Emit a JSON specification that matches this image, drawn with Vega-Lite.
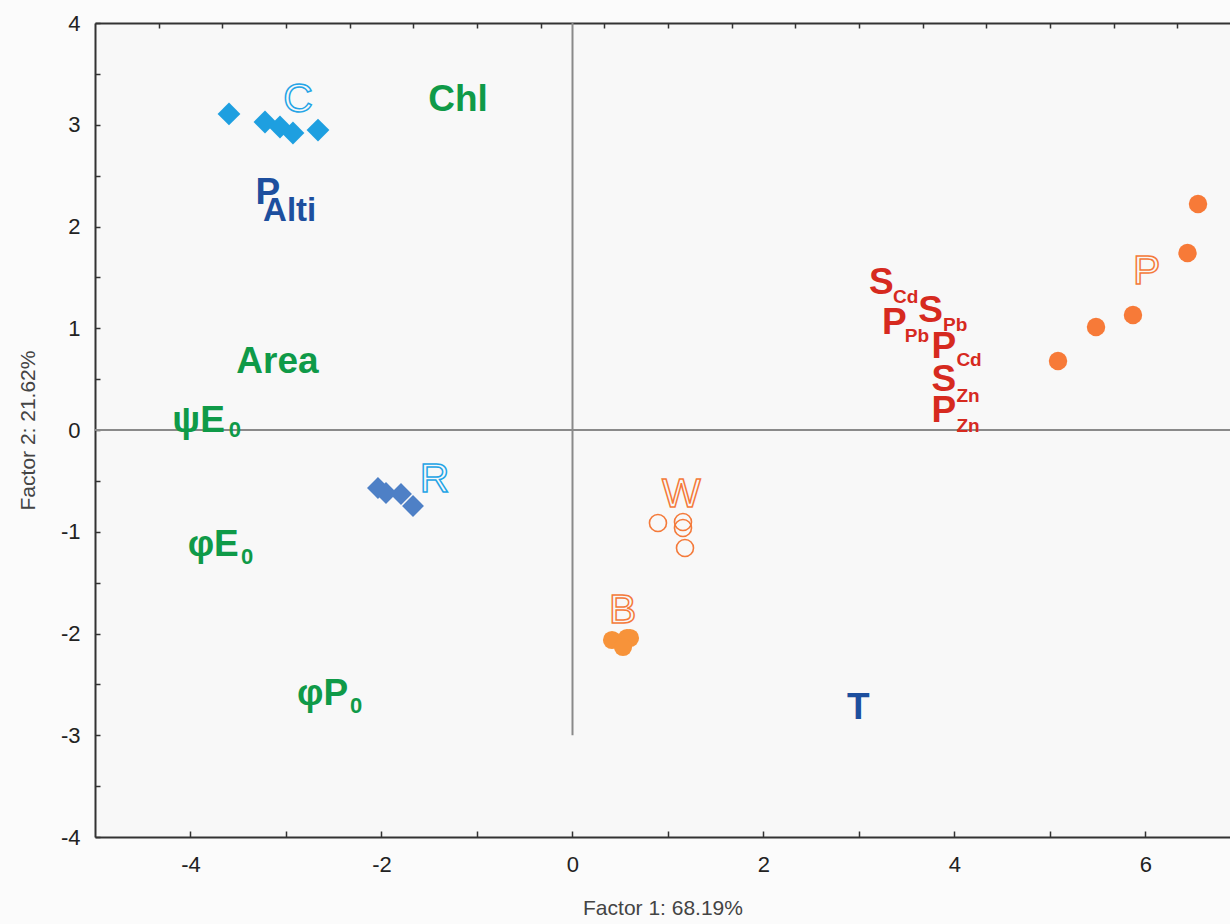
{
  "$schema": "https://vega.github.io/schema/vega-lite/v6.json",
  "width": 1135,
  "height": 814,
  "autosize": "none",
  "padding": {"left": 95, "top": 23, "right": 0, "bottom": 87},
  "background": "#fbfbfb",
  "config": {
    "view": {"fill": "#f8f8f8", "stroke": null},
    "axis": {"grid": false, "domainColor": "#333", "domainWidth": 2, "tickColor": "#333", "tickWidth": 1.5,
             "labelFont": "Liberation Sans", "labelFontSize": 22, "labelColor": "#222",
             "titleFont": "Liberation Sans", "titleFontSize": 21, "titleFontWeight": "normal", "titleColor": "#444"}
  },
  "resolve": {"axis": {"x": "independent"}, "scale": {"size": "independent", "shape": "independent", "color": "independent", "fill": "independent", "stroke": "independent"}},
  "datasets": {
    "points": [
      {"x": -3.597, "y": 3.106, "group": "C"},
      {"x": -3.22, "y": 3.027, "group": "C"},
      {"x": -3.063, "y": 2.978, "group": "C"},
      {"x": -2.927, "y": 2.919, "group": "C"},
      {"x": -2.665, "y": 2.948, "group": "C"},
      {"x": -2.037, "y": -0.57, "group": "R"},
      {"x": -1.953, "y": -0.619, "group": "R"},
      {"x": -1.796, "y": -0.629, "group": "R"},
      {"x": -1.67, "y": -0.747, "group": "R"},
      {"x": 6.55, "y": 2.221, "group": "P"},
      {"x": 6.44, "y": 1.74, "group": "P"},
      {"x": 5.869, "y": 1.13, "group": "P"},
      {"x": 5.482, "y": 1.012, "group": "P"},
      {"x": 5.084, "y": 0.678, "group": "P"},
      {"x": 0.414, "y": -2.064, "group": "B"},
      {"x": 0.571, "y": -2.044, "group": "B"},
      {"x": 0.602, "y": -2.044, "group": "B"},
      {"x": 0.529, "y": -2.133, "group": "B"}
    ],
    "hollow": [
      {"x": 0.895, "y": -0.914, "group": "W"},
      {"x": 1.157, "y": -0.904, "group": "W"},
      {"x": 1.157, "y": -0.963, "group": "W"},
      {"x": 1.178, "y": -1.16, "group": "W"}
    ],
    "labels": [
      {"label": "Chl", "x": -1.51, "y": 3.135, "kind": "green", "role": "main"},
      {"label": "Area", "x": -3.52, "y": 0.56, "kind": "green", "role": "main"},
      {"label": "ψE", "x": -4.19, "y": -0.015, "kind": "green", "role": "main"},
      {"label": "0", "x": -3.6, "y": -0.065, "kind": "green", "role": "sub0"},
      {"label": "φE", "x": -4.03, "y": -1.243, "kind": "green", "role": "main"},
      {"label": "0", "x": -3.47, "y": -1.32, "kind": "green", "role": "sub0"},
      {"label": "φP", "x": -2.885, "y": -2.7, "kind": "green", "role": "main"},
      {"label": "0", "x": -2.33, "y": -2.78, "kind": "green", "role": "sub0"},
      {"label": "P", "x": -3.32, "y": 2.226, "kind": "navy", "role": "main"},
      {"label": "Alti", "x": -3.24, "y": 2.05, "kind": "navy", "role": "mid"},
      {"label": "T", "x": 2.874, "y": -2.845, "kind": "navy", "role": "main"},
      {"label": "S", "x": 3.104, "y": 1.34, "kind": "red", "role": "main"},
      {"label": "Cd", "x": 3.356, "y": 1.25, "kind": "red", "role": "sub"},
      {"label": "P", "x": 3.24, "y": 0.94, "kind": "red", "role": "main"},
      {"label": "Pb", "x": 3.48, "y": 0.86, "kind": "red", "role": "sub"},
      {"label": "S", "x": 3.62, "y": 1.057, "kind": "red", "role": "main"},
      {"label": "Pb", "x": 3.88, "y": 0.97, "kind": "red", "role": "sub"},
      {"label": "P", "x": 3.76, "y": 0.71, "kind": "red", "role": "main"},
      {"label": "Cd", "x": 4.02, "y": 0.625, "kind": "red", "role": "sub"},
      {"label": "S", "x": 3.76, "y": 0.38, "kind": "red", "role": "main"},
      {"label": "Zn", "x": 4.02, "y": 0.28, "kind": "red", "role": "sub"},
      {"label": "P", "x": 3.76, "y": 0.074, "kind": "red", "role": "main"},
      {"label": "Zn", "x": 4.02, "y": -0.015, "kind": "red", "role": "sub"}
    ],
    "outline": [
      {"label": "C", "x": -3.03, "y": 3.125, "tone": "blue"},
      {"label": "R", "x": -1.6, "y": -0.614, "tone": "blue"},
      {"label": "P", "x": 5.87, "y": 1.43, "tone": "orange"},
      {"label": "W", "x": 0.937, "y": -0.752, "tone": "orange"},
      {"label": "B", "x": 0.382, "y": -1.9, "tone": "orange"}
    ],
    "vline": [{"x": 0, "y": -3, "y2": 4}],
    "hline": [{"x": -5, "x2": 6.885, "y": 0}]
  },
  "layer": [
    {
      "data": {"name": "vline"},
      "mark": {"type": "rule", "color": "#8a8a8a", "strokeWidth": 2},
      "encoding": {
        "x": {"field": "x", "type": "quantitative", "scale": {"domain": [-5, 6.885], "nice": false, "zero": false},
              "axis": {"orient": "bottom", "values": [-4, -3, -2, -1, 0, 1, 2, 3, 4, 5, 6], "labelExpr": "datum.value % 2 == 0 ? '' + datum.value : ''",
                       "tickSize": -6, "labelPadding": 23, "title": "Factor 1: 68.19%", "titlePadding": 22}},
        "y": {"field": "y", "type": "quantitative", "scale": {"domain": [-4, 4], "nice": false},
              "axis": {"values": [-4, -3.75, -3.5, -3.25, -3, -2.75, -2.5, -2.25, -2, -1.75, -1.5, -1.25, -1, -0.75, -0.5, -0.25, 0, 0.25, 0.5, 0.75, 1, 1.25, 1.5, 1.75, 2, 2.25, 2.5, 2.75, 3, 3.25, 3.5, 3.75, 4],
                       "labelExpr": "datum.value % 1 == 0 ? '' + datum.value : ''", "tickSize": -5, "labelPadding": 20,
                       "title": "Factor 2: 21.62%", "titlePadding": 22}},
        "y2": {"field": "y2"}
      }
    },
    {
      "data": {"name": "hline"},
      "mark": {"type": "rule", "color": "#8a8a8a", "strokeWidth": 2},
      "encoding": {
        "x": {"field": "x", "type": "quantitative",
              "axis": {"orient": "top", "values": [-4.333, -3.667, -3, -2.333, -1.667, -1, -0.333, 0.333, 1, 1.667, 2.333, 3, 3.667, 4.333, 5, 5.667, 6.333],
                       "labels": false, "tickSize": -5, "title": null}},
        "x2": {"field": "x2"},
        "y": {"field": "y", "type": "quantitative"}
      }
    },
    {
      "data": {"name": "points"},
      "mark": {"type": "point", "filled": true, "opacity": 1, "strokeWidth": 0},
      "encoding": {
        "x": {"field": "x", "type": "quantitative", "axis": null},
        "y": {"field": "y", "type": "quantitative"},
        "shape": {"field": "group", "type": "nominal", "scale": {"domain": ["C", "R", "P", "B"], "range": ["diamond", "diamond", "circle", "circle"]}, "legend": null},
        "size": {"field": "group", "type": "nominal", "scale": {"type": "ordinal", "domain": ["C", "R", "P", "B"], "range": [520, 480, 340, 330]}, "legend": null},
        "color": {"field": "group", "type": "nominal", "scale": {"domain": ["C", "R", "P", "B"], "range": ["#1e9fe0", "#4e80c6", "#f77a38", "#f7933a"]}, "legend": null}
      }
    },
    {
      "data": {"name": "hollow"},
      "mark": {"type": "point", "filled": false, "shape": "circle", "size": 290, "strokeWidth": 1.6, "color": "#f47a3a", "opacity": 1},
      "encoding": {
        "x": {"field": "x", "type": "quantitative", "axis": null},
        "y": {"field": "y", "type": "quantitative"}
      }
    },
    {
      "data": {"name": "labels"},
      "mark": {"type": "text", "align": "left", "baseline": "alphabetic", "font": "Liberation Sans", "fontWeight": "bold"},
      "encoding": {
        "x": {"field": "x", "type": "quantitative", "axis": null},
        "y": {"field": "y", "type": "quantitative"},
        "text": {"field": "label"},
        "size": {"field": "role", "type": "nominal", "scale": {"type": "ordinal", "domain": ["main", "mid", "sub", "sub0"], "range": [37, 33, 19, 22]}, "legend": null},
        "fill": {"field": "kind", "type": "nominal", "scale": {"domain": ["green", "navy", "red"], "range": ["#0f9a48", "#1d4f9e", "#d62a1f"]}, "legend": null}
      }
    },
    {
      "data": {"name": "outline"},
      "mark": {"type": "text", "align": "left", "baseline": "alphabetic", "font": "Liberation Sans", "fontSize": 41, "fillOpacity": 0, "strokeWidth": 1.5},
      "encoding": {
        "x": {"field": "x", "type": "quantitative", "axis": null},
        "y": {"field": "y", "type": "quantitative"},
        "text": {"field": "label"},
        "stroke": {"field": "tone", "type": "nominal", "scale": {"domain": ["blue", "orange"], "range": ["#24a4e6", "#f47a3a"]}, "legend": null}
      }
    }
  ]
}
